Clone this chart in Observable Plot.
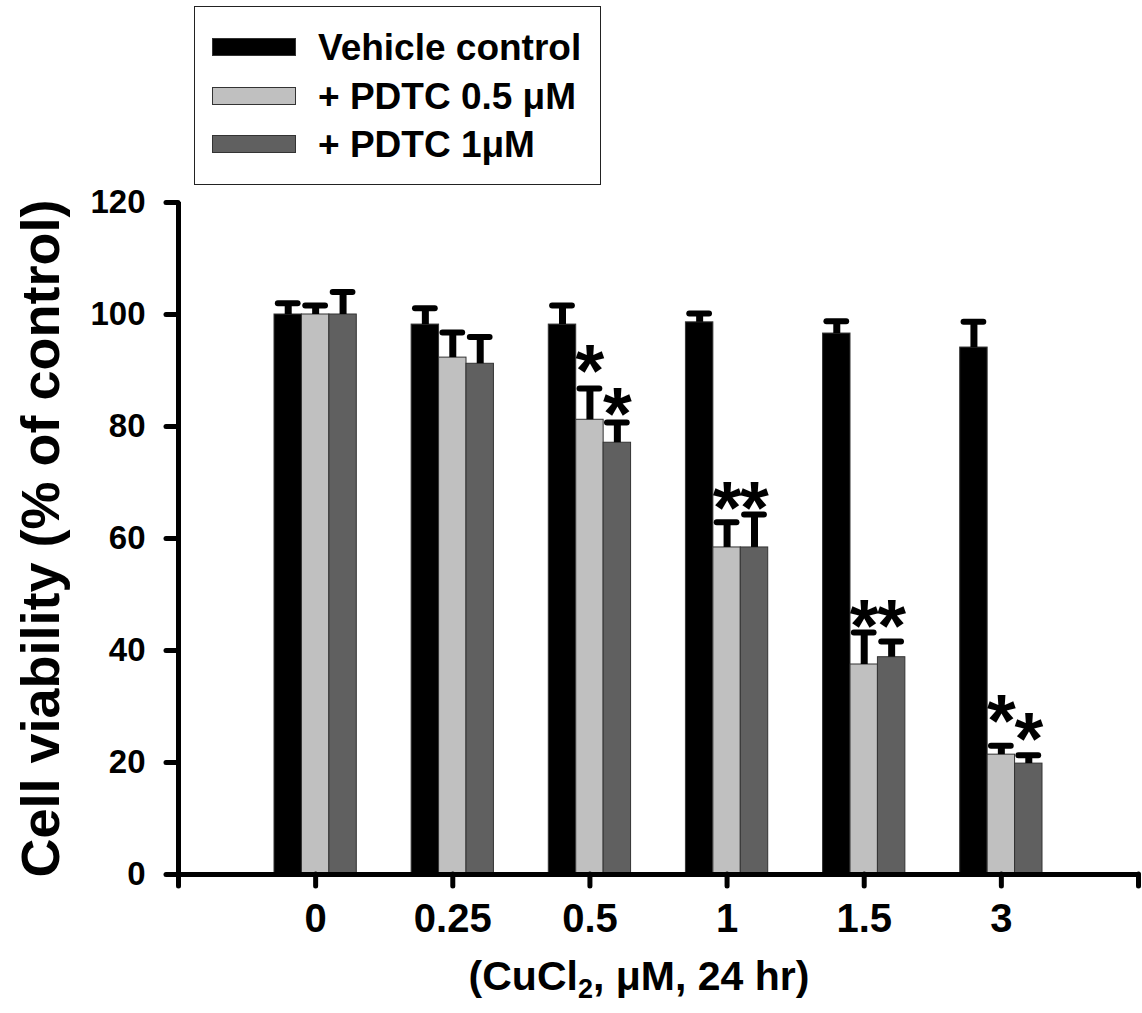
<!DOCTYPE html>
<html>
<head>
<meta charset="utf-8">
<script src="https://cdn.jsdelivr.net/npm/d3@7"></script>
<script src="https://cdn.jsdelivr.net/npm/@observablehq/plot@0.6"></script>
<style>
  html, body { margin: 0; padding: 0; background: white; }
  #wrap { position: relative; width: 1142px; height: 1013px; font-family: "Liberation Sans", Arial, sans-serif; font-weight: bold; color: black; }
  #chart { position: absolute; left: 0; top: 0; }
  #legend { position: absolute; left: 194px; top: 6px; width: 407px; height: 179px; border: 1.5px solid #222; box-sizing: border-box; background: white; }
  .row { position: absolute; left: 0; height: 50px; display: flex; align-items: center; }
  .sw { position: absolute; left: 17px; width: 84px; height: 18px; box-sizing: border-box; border: 1px solid #333; }
  .lt { position: absolute; left: 123px; font-size: 37px; line-height: 1; white-space: nowrap; }
  #xtitle { position: absolute; left: 0; width: 1142px; padding-left: 136px; box-sizing: border-box; top: 956px; text-align: center; font-size: 41px; line-height: 1; white-space: nowrap; }
  #xtitle sub { font-size: 27px; vertical-align: -8px; line-height: 0; }
</style>
</head>
<body>
<div id="wrap">
  <div id="chart"></div>
  <div id="legend"></div>
  <div id="xtitle">(CuCl<sub>2</sub>, &mu;M, 24 hr)</div>
</div>
<script>
// ---- data ----
const categories = ["0", "0.25", "0.5", "1", "1.5", "3"];
const seriesNames = ["Vehicle control", "+ PDTC 0.5 \u03bcM", "+ PDTC 1\u03bcM"];
const seriesColors = ["#000000", "#c0c0c0", "#606060"];

const vehicle     = [100, 98.2, 98.2, 98.6, 96.6, 94.1];
const vehicleErr  = [2.0, 2.9, 3.4, 1.6, 2.2, 4.6];
const pdtc05      = [100, 92.3, 81.2, 58.4, 37.5, 21.4];
const pdtc05Err   = [1.6, 4.5, 5.6, 4.5, 5.7, 1.6];
const pdtc1       = [100, 91.2, 77.1, 58.4, 38.8, 19.8];
const pdtc1Err    = [4.0, 4.8, 3.6, 5.9, 2.8, 1.5];

// asterisk marker heights (visual centre, in % units); null = no asterisk
const vehicleStar = [null, null, null, null, null, null];
const pdtc05Star  = [null, null, 92.7, 68.2, 47.1, 30.2];
const pdtc1Star   = [null, null, 85.0, 68.2, 47.1, 27.0];

const yTicks = [0, 20, 40, 60, 80, 100, 120];
const yTitle = "Cell viability (% of control)";

// ---- layout ----
const W = 1142, H = 1013;
const mL = 178, mR = 4, mT = 202, mB = 139;
const frameW = W - mL - mR, frameH = H - mT - mB;
const tickLen = 12;

// ---- table ----
const values = [vehicle, pdtc05, pdtc1];
const errs = [vehicleErr, pdtc05Err, pdtc1Err];
const stars = [vehicleStar, pdtc05Star, pdtc1Star];
const rows = [];
categories.forEach((c, g) => {
  seriesNames.forEach((s, k) => {
    rows.push({g, k, category: c, series: s, value: values[k][g], err: errs[k][g], star: stars[k][g]});
  });
});
const barW = 0.2;
const xc = d => d.g + 1 + (d.k - 1) * barW;
const capHalf = 0.072;
const starSize = 74;
const xTicks = d3.range(0, categories.length + 2);

const chart = Plot.plot({
  width: W,
  height: H,
  marginLeft: mL,
  marginRight: mR,
  marginTop: mT,
  marginBottom: mB,
  x: {domain: [0, categories.length + 1]},
  y: {domain: [0, 120]},
  color: {domain: seriesNames, range: seriesColors},
  style: {fontFamily: "'Liberation Sans', Arial, sans-serif", fontWeight: "bold", color: "black", background: "white"},
  marks: [
    Plot.rectY(rows, {x1: d => xc(d) - barW / 2, x2: d => xc(d) + barW / 2, y1: 0, y2: "value", fill: "series", stroke: "#333", strokeWidth: 1}),
    Plot.ruleX(rows, {x: xc, y1: "value", y2: d => d.value + d.err, stroke: "black", strokeWidth: 7}),
    Plot.ruleY(rows, {y: d => d.value + d.err, x1: d => xc(d) - capHalf, x2: d => xc(d) + capHalf, stroke: "black", strokeWidth: 6, strokeLinecap: "round"}),
    Plot.text(rows.filter(d => d.star != null), {x: xc, y: "star", text: () => "*", fontSize: starSize, fontWeight: "bold", fill: "black", dy: 0.23 * starSize}),
    // axis lines
    Plot.ruleY([0], {stroke: "black", strokeWidth: 5}),
    Plot.ruleX([0], {stroke: "black", strokeWidth: 5}),
    // heavy tick marks
    Plot.tickY(yTicks, {y: d => d, insetLeft: -tickLen, insetRight: frameW, stroke: "black", strokeWidth: 5, strokeLinecap: "round"}),
    Plot.tickX(xTicks, {x: d => d, insetTop: frameH, insetBottom: -tickLen, stroke: "black", strokeWidth: 5, strokeLinecap: "round"}),
    // tick labels
    Plot.axisY({ticks: yTicks, tickSize: 0, tickPadding: tickLen + 21, fontSize: 33, fontWeight: "bold", label: null}),
    Plot.axisX({ticks: xTicks, tickFormat: i => categories[i - 1] ?? "", tickSize: 0, tickPadding: tickLen + 17, fontSize: 40, fontWeight: "bold", label: null}),
    Plot.text([yTitle], {frameAnchor: "left", textAnchor: "middle", rotate: -90, dx: -137, fontSize: 54, fontWeight: "bold", fill: "black"})
  ]
});
document.getElementById("chart").appendChild(chart);

// ---- legend ----
const legend = document.getElementById("legend");
const rowCenters = [40, 89, 137];
seriesNames.forEach((s, k) => {
  const row = document.createElement("div");
  row.className = "row";
  row.style.top = (rowCenters[k] - 25) + "px";
  const sw = document.createElement("div");
  sw.className = "sw";
  sw.style.background = seriesColors[k];
  sw.style.top = "16px";
  const t = document.createElement("div");
  t.className = "lt";
  t.textContent = s;
  row.appendChild(sw);
  row.appendChild(t);
  legend.appendChild(row);
});
</script>
</body>
</html>
